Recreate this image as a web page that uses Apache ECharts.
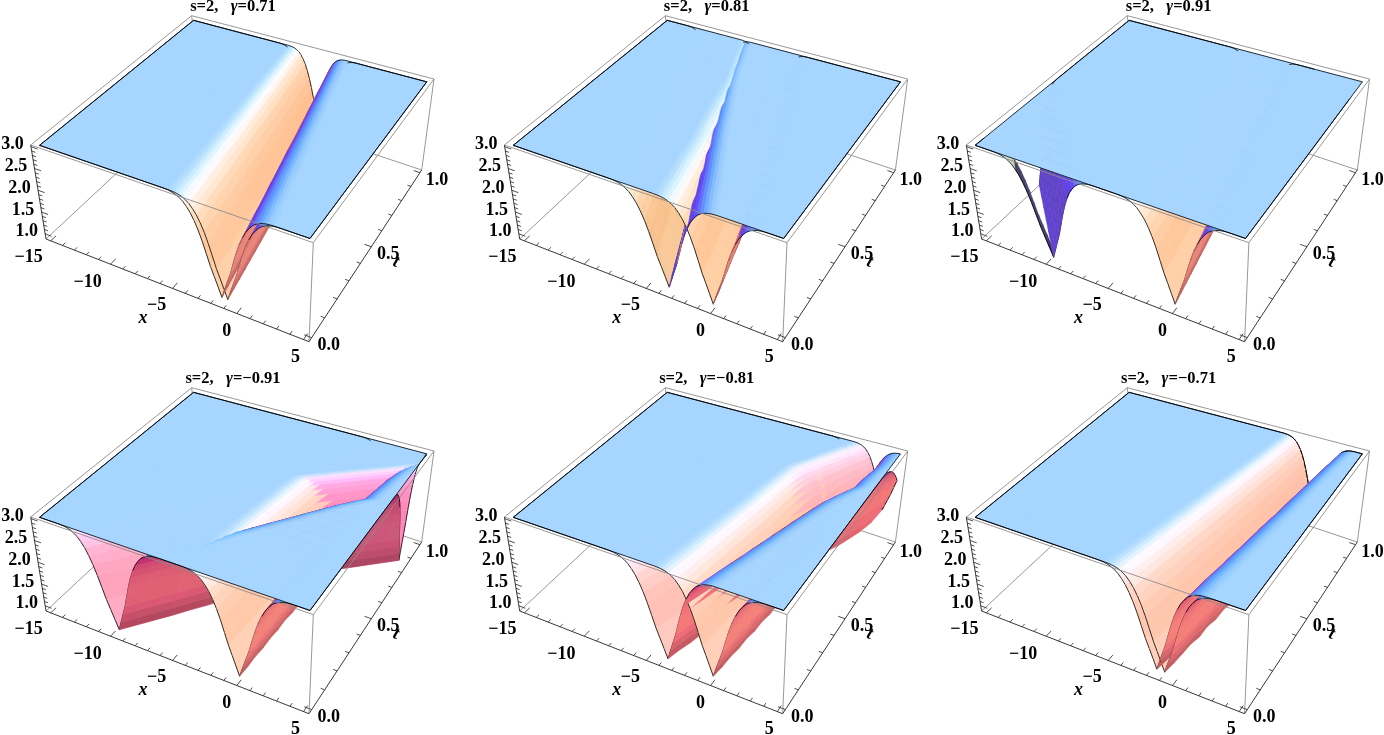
<!DOCTYPE html>
<html>
<head>
    <script src="https://cdn.jsdelivr.net/npm/echarts@6/dist/echarts.min.js"></script>
</head>
<body style="height: 100%; margin: 0; background: #fff">
<div id="container" style="height: 735px; width: 1384px;"></div>
<script>

// tick labels
var xTicks = [-15, -10, -5, 0, 5];
var zTicks = [1.0, 1.5, 2.0, 2.5, 3.0];
var tTicks = [0.0, 0.5, 1.0];

// t rows of every surface
var tRows = [0, 0.05, 0.1, 0.15, 0.2, 0.25, 0.3, 0.35, 0.4, 0.45, 0.5, 0.55, 0.6, 0.65, 0.7, 0.75, 0.8, 0.85, 0.9, 0.95, 1];

// dip cross section: distance from the dip centre -> height
var dipOffset = [0, 0.25, 0.5, 0.75, 1, 1.25, 1.5, 1.75, 2, 2.25, 2.5, 2.75, 3, 3.25, 3.5, 3.75, 4, 6, 10, 20, 40];
var dipHeight = [1, 1.2, 1.4, 1.6, 1.85, 2.1, 2.32, 2.5, 2.65, 2.76, 2.85, 2.91, 2.95, 2.975, 2.99, 2.997, 3, 3, 3, 3, 3];
// the dips look narrower towards t = 1
var dipWidth = [1, 0.99, 0.97, 0.96, 0.95, 0.93, 0.92, 0.9, 0.89, 0.87, 0.86, 0.85, 0.83, 0.82, 0.8, 0.79, 0.77, 0.76, 0.75, 0.73, 0.72];

// dip centres and dip floors per t row, one pair of sheets per panel
var flatFloor = [1, 1, 1, 1, 1, 1, 1, 1, 1, 1, 1, 1, 1, 1, 1, 1, 1, 1, 1, 1, 1];

var g71One = [-0.9, -1.03, -1.16, -1.29, -1.42, -1.55, -1.68, -1.81, -1.94, -2.07, -2.2, -2.33, -2.46, -2.59, -2.72, -2.85, -2.98, -3.11, -3.24, -3.37, -3.5];
var g71Two = [-1.35, -1.5, -1.65, -1.79, -1.94, -2.09, -2.24, -2.38, -2.53, -2.68, -2.83, -2.97, -3.12, -3.27, -3.42, -3.56, -3.71, -3.86, -4.01, -4.15, -4.3];

var g81One = [0, -0.2, -0.43, -0.65, -0.88, -1.1, -1.3, -1.55, -1.85, -2.1, -2.35, -2.6, -2.85, -3.1, -3.35, -3.65, -4.05, -4.4, -4.7, -5.05, -5.4];
var g81Two = [-3.4, -3.8, -4.18, -4.55, -4.93, -5.3, -5.7, -6.05, -6.45, -6.8, -7.15, -7.5, -7.85, -8.2, -8.55, -8.85, -9.15, -9.4, -9.7, -9.95, -10.2];

var g91One = [0, -0.15, -0.3, -0.45, -0.6, -0.75, -0.9, -1.05, -1.2, -1.35, -1.5, -1.65, -1.8, -1.95, -2.1, -2.25, -2.4, -2.55, -2.7, -2.85, -3.0];
var g91Two = [-9.6, -10.5, -11.4, -12.3, -13.2, -14.1, -15, -15.9, -16.8, -17.7, -18.6, -19.5, -20.4, -21.3, -22.2, -23.1, -24, -24.9, -25.8, -26.7, -27.6];

var m91One = [0, 0.05, 0.1, 0.15, 0.2, 0.25, 0.3, 0.38, 0.46, 0.55, 0.65, 0.75, 0.85, 1.0, 1.2, 1.4, 1.6, 1.85, 2.1, 2.4, 2.7];
var m91Two = [-9.5, -8.7, -7.9, -7.1, -6.3, -5.5, -4.7, -3.9, -3.1, -2.3, -1.5, -0.7, 0.2, 1.2, 2.4, 3.6, 4.8, 6.0, 7.2, 8.4, 9.6];
var m91FloorOne = [1, 1, 1.03, 1.02, 1.05, 1.04, 1.07, 1.06, 1.09, 1.08, 1.1, 1.12, 1.12, 1.15, 1.15, 1.18, 1.2, 1.22, 1.25, 1.3, 1.35];
var m91FloorTwo = [1, 1, 1, 1, 1.01, 1.01, 1.02, 1.02, 1.03, 1.03, 1.04, 1.05, 1.06, 1.07, 1.08, 1.09, 1.1, 1.11, 1.12, 1.14, 1.15];

var m81One = [0, 0.1, 0.2, 0.3, 0.4, 0.5, 0.6, 0.7, 0.8, 0.9, 1.0, 1.08, 1.15, 1.25, 1.35, 1.5, 1.65, 1.85, 2.05, 2.2, 2.3];
var m81Two = [-3.5, -3.2, -2.9, -2.6, -2.3, -2.0, -1.7, -1.4, -1.1, -0.8, -0.5, -0.2, 0.15, 0.6, 1.1, 1.6, 2.1, 2.6, 3.1, 3.6, 4.1];
var m81FloorOne = [1, 1, 1.03, 1.02, 1.06, 1.04, 1.08, 1.06, 1.1, 1.08, 1.12, 1.1, 1.15, 1.12, 1.18, 1.15, 1.2, 1.25, 1.3, 1.5, 1.8];
var m81FloorTwo = [1, 1.02, 1.02, 1.05, 1.05, 1.08, 1.08, 1.1, 1.1, 1.12, 1.12, 1.15, 1.15, 1.18, 1.18, 1.2, 1.2, 1.25, 1.3, 1.4, 1.6];

var m71One = [-0.8, -0.68, -0.56, -0.44, -0.32, -0.2, -0.08, 0.04, 0.16, 0.28, 0.4, 0.52, 0.64, 0.76, 0.88, 1.0, 1.12, 1.24, 1.36, 1.46, 1.55];
var m71Two = [-1.4, -1.25, -1.11, -0.97, -0.82, -0.68, -0.53, -0.38, -0.24, -0.1, 0.05, 0.2, 0.34, 0.48, 0.63, 0.78, 0.92, 1.06, 1.21, 1.4, 1.55];
var m71FloorOne = [1, 1, 1.02, 1.05, 1.02, 1.08, 1.05, 1.1, 1.08, 1.12, 1.1, 1.15, 1.12, 1.18, 1.15, 1.2, 1.2, 1.25, 1.3, 1.35, 1.4];

var panelNames = ['0.71', '0.81', '0.91', '\u22120.91', '\u22120.81', '\u22120.71'];
// centres, floors, and whether the sampled surface has no left wall behind the first row
var panelSheets = [
    [[g71One, flatFloor], [g71Two, flatFloor]],
    [[g81One, flatFloor], [g81Two, flatFloor]],
    [[g91One, flatFloor], [g91Two, flatFloor, true]],
    [[m91One, m91FloorOne], [m91Two, m91FloorTwo]],
    [[m81One, m81FloorOne], [m81Two, m81FloorTwo]],
    [[m71One, m71FloorOne], [m71Two, m71FloorOne]]
];

// page layout of the six panels, all panels share one projection
var panelLeft = [0, 473.7, 935.6, 0, 473.7, 935.6];
var panelTop = [0, 0, 0, 372, 372, 372];
var panelW = 448, panelH = 360;

// plot box in data units and its corners on the panel plane
var box = {x0: -15.4, x1: 5.4, t0: -0.02, t1: 1.02, z0: 0.88, z1: 3.04};
var topCorners = [[30.7, 145], [313.3, 242.7], [434, 79], [191.7, 15.7]];
var floorCorners = [[46, 239], [309, 341.7], [421.7, 170], [199.5, 96]];

function quadMap(c) {
    var dx1 = c[1][0] - c[2][0], dx2 = c[3][0] - c[2][0], sx = c[0][0] - c[1][0] + c[2][0] - c[3][0];
    var dy1 = c[1][1] - c[2][1], dy2 = c[3][1] - c[2][1], sy = c[0][1] - c[1][1] + c[2][1] - c[3][1];
    var den = dx1 * dy2 - dx2 * dy1;
    var g = (sx * dy2 - dx2 * sy) / den, h = (dx1 * sy - sx * dy1) / den;
    var a = c[1][0] - c[0][0] + g * c[1][0], b = c[3][0] - c[0][0] + h * c[3][0];
    var d = c[1][1] - c[0][1] + g * c[1][1], e = c[3][1] - c[0][1] + h * c[3][1];
    return function (u, v) {
        var w = g * u + h * v + 1;
        return [(a * u + b * v + c[0][0]) / w, (d * u + e * v + c[0][1]) / w];
    };
}
var topMap = quadMap(topCorners), floorMap = quadMap(floorCorners);

function project(x, t, z) {
    var u = (x - box.x0) / (box.x1 - box.x0), v = (t - box.t0) / (box.t1 - box.t0);
    var k = (z - box.z0) / (box.z1 - box.z0);
    var p = topMap(u, v), q = floorMap(u, v);
    return [q[0] + (p[0] - q[0]) * k, q[1] + (p[1] - q[1]) * k];
}

// default Mathematica style lights, given in camera axes
var camRight = [0.897, 0.443, 0], camUp = [-0.349, 0.532, 0.797], camView = [0.353, -0.715, 0.632];
var lightRed = [0.588, -0.196, 0.784], lightGreen = [0.514, 0.514, 0.686], lightBlue = [-0.196, 0.588, 0.784];
var ambient = [0.38, 0.15, 0.39];

function dot(a, b) { return a[0] * b[0] + a[1] * b[1] + a[2] * b[2]; }

function shade(poly) {
    var n = poly.length, a = poly[0], b = poly[Math.floor(n / 2)], c = poly[Math.floor(n / 4)], d = poly[Math.floor(3 * n / 4)];
    var zs = 0.4 / (box.z1 - box.z0);
    var p = [(b[0] - a[0]) / 20, b[1] - a[1], (b[2] - a[2]) * zs];
    var q = [(d[0] - c[0]) / 20, d[1] - c[1], (d[2] - c[2]) * zs];
    var nv = [p[1] * q[2] - p[2] * q[1], p[2] * q[0] - p[0] * q[2], p[0] * q[1] - p[1] * q[0]];
    var len = Math.sqrt(dot(nv, nv)) || 1;
    nv = [nv[0] / len, nv[1] / len, nv[2] / len];
    if (nv[2] < 0) nv = [-nv[0], -nv[1], -nv[2]];
    // normal that looks at the camera, grazing cells count as underside so they do not flicker
    var under = dot(nv, camView) < 0.1;
    if (under) nv = [-nv[0], -nv[1], -nv[2]];
    var cam = [dot(nv, camRight), dot(nv, camUp), dot(nv, camView)];
    var fill = Math.max(0, cam[0] + 0.3 * cam[2]);
    var r = ambient[0] + 0.8 * Math.max(0, dot(cam, lightRed));
    var g = ambient[1] + 0.8 * Math.max(0, dot(cam, lightGreen)) + 0.06 * fill + 0.12 * Math.max(0, -cam[0]);
    var bl = ambient[2] + 0.8 * Math.max(0, dot(cam, lightBlue)) + 0.14 * fill;
    if (under) {
        var low = 0;
        poly.forEach(function (v) { low += v[2] / n; });
        var dim = 0.78 + 0.22 * Math.min(1, (low - 1) / 0.5);
        var side = Math.max(0, cam[0]);
        r *= (0.7 + 0.3 * side) * dim;
        g = (g + 0.1 * side * side) * dim;
        bl = (bl - 0.05 * side) * dim;
    }
    return 'rgb(' + Math.round(Math.min(1, r) * 255) + ',' + Math.round(Math.min(1, g) * 255) + ',' + Math.round(Math.min(1, bl) * 255) + ')';
}

// cut a cell at the x range of the plot, the cut edges are the sheet boundary lines
function clipCell(poly, limit, keepAbove, edges) {
    var out = [], cut = [];
    for (var i = 0; i < poly.length; i++) {
        var a = poly[i], b = poly[(i + 1) % poly.length];
        var ina = keepAbove ? a[0] >= limit : a[0] <= limit;
        var inb = keepAbove ? b[0] >= limit : b[0] <= limit;
        if (ina) out.push(a);
        if (ina !== inb) {
            var k = (limit - a[0]) / (b[0] - a[0]);
            var m = [limit, a[1] + (b[1] - a[1]) * k, a[2] + (b[2] - a[2]) * k];
            out.push(m);
            cut.push(m);
        }
    }
    if (cut.length === 2) edges.push(cut);
    return out;
}

function sheetItems(centres, floors, openLeft) {
    var cols = [];
    for (var i = dipOffset.length - 1; i > 0; i--) cols.push([-dipOffset[i], dipHeight[i]]);
    var mid = cols.length;
    for (i = 0; i < dipOffset.length; i++) cols.push([dipOffset[i], dipHeight[i]]);
    var vert = function (r, c) {
        var drop = (3 - cols[c][1]) / 2 * (3 - floors[r]);
        return [centres[r] + cols[c][0] * dipWidth[r], tRows[r], 3 - drop];
    };
    var items = [];
    var line = function (a, b) {
        items.push({kind: 'line', pts: [a, b], key: (a[2] + b[2]) / 2 + 0.04});
    };
    for (var r = 0; r < tRows.length; r++) {
        for (var c = 0; c < cols.length - 1; c++) {
            var edges = [];
            if (r < tRows.length - 1 && !(openLeft && r > 0 && c < mid)) {
                var cell = [vert(r, c), vert(r, c + 1), vert(r + 1, c + 1), vert(r + 1, c)];
                cell = clipCell(cell, -15, true, edges);
                if (cell.length) cell = clipCell(cell, 5, false, edges);
                if (cell.length > 2) {
                    var key = 0;
                    cell.forEach(function (p) { key += p[2] / cell.length; });
                    // the camera sits on the +x side: near the floor the right wall goes over the left one
                    key += (c < mid ? -0.15 : 0.15) * (3 - key) / 2;
                    items.push({kind: 'face', pts: cell, key: key, color: shade(cell)});
                }
                edges.forEach(function (e) { line(e[0], e[1]); });
            }
            if (r === 0 || r === tRows.length - 1) {
                var seg = clipCell([vert(r, c), vert(r, c + 1)], -15, true, []);
                if (seg.length === 2) seg = clipCell(seg, 5, false, []);
                if (seg.length >= 2) line(seg[0], seg[1]);
            }
        }
    }
    return items;
}

function boxLine(a, b, color, width) {
    return {kind: 'line', pts: [a, b], color: color, width: width};
}

function boxItemsBack() {
    var g = '#8c8c8c';
    return [
        boxLine([box.x0, box.t1, box.z0], [box.x0, box.t0, box.z0], g, 0.9),
        boxLine([box.x0, box.t1, box.z0], [box.x1, box.t1, box.z0], g, 0.9),
        boxLine([box.x0, box.t1, box.z0], [box.x0, box.t1, box.z1], g, 0.9)
    ];
}

function boxItemsFront() {
    var g = '#8c8c8c', k = '#222', i, out = [
        boxLine([box.x0, box.t0, box.z1], [box.x1, box.t0, box.z1], g, 0.9),
        boxLine([box.x1, box.t0, box.z1], [box.x1, box.t1, box.z1], g, 0.9),
        boxLine([box.x1, box.t1, box.z1], [box.x0, box.t1, box.z1], g, 0.9),
        boxLine([box.x0, box.t1, box.z1], [box.x0, box.t0, box.z1], g, 0.9),
        boxLine([box.x1, box.t0, box.z1], [box.x1, box.t0, box.z0], g, 0.9),
        boxLine([box.x1, box.t1, box.z1], [box.x1, box.t1, box.z0], g, 0.9),
        boxLine([box.x0, box.t0, box.z1], [box.x0, box.t0, box.z0], k, 0.9),
        boxLine([box.x0, box.t0, box.z0], [box.x1, box.t0, box.z0], k, 0.9),
        boxLine([box.x1, box.t0, box.z0], [box.x1, box.t1, box.z0], k, 0.9)
    ];
    for (i = -15; i <= 5; i++) {
        out.push(boxLine([i, box.t0, box.z0], [i, box.t0 + (i % 5 === 0 ? 0.03 : 0.016), box.z0], k, 0.8));
    }
    for (i = 0; i <= 10; i++) {
        out.push(boxLine([box.x1, i / 10, box.z0], [box.x1 - (i % 5 === 0 ? 0.55 : 0.3), i / 10, box.z0], k, 0.8));
    }
    for (i = 10; i <= 30; i++) {
        out.push(boxLine([box.x0, box.t0, i / 10], [box.x0 + (i % 5 === 0 ? 0.55 : 0.3), box.t0, i / 10], k, 0.8));
    }
    return out;
}

var serifBold = 'bold 18px "Liberation Serif"';
var xNudge = [[-22, 17], [-23, 18], [-16, 17], [-10, 18], [-8, 18]];

function labelItems(name) {
    var out = [];
    var add = function (pos, text, font, rotation) {
        out.push({kind: 'text', at: pos, text: text, font: font || serifBold, rotation: rotation || 0});
    };
    xTicks.forEach(function (v, i) {
        var p = project(v, box.t0, box.z0);
        add([p[0] + xNudge[i][0], p[1] + xNudge[i][1]], String(v).replace('-', '\u2212'));
    });
    zTicks.forEach(function (v) {
        var p = project(box.x0, box.t0, v);
        add([p[0] - 18.5, p[1] - 2], v.toFixed(1));
    });
    tTicks.forEach(function (v) {
        var p = project(box.x1, v, box.z0);
        add([p[0] + 17, p[1] + 7.5], v.toFixed(1));
    });
    add([143, 318], 'x', 'italic bold 18px "Liberation Serif"');
    add([396, 262], 't', 'italic bold 18px "Liberation Serif"', -0.35);
    out.push({kind: 'title', at: [233, 7], name: name});
    return out;
}

function panelItems(p) {
    var faces = [];
    panelSheets[p].forEach(function (s) { faces = faces.concat(sheetItems(s[0], s[1], s[2])); });
    faces.sort(function (a, b) { return a.key - b.key; });
    return boxItemsBack().concat(faces, boxItemsFront(), labelItems(panelNames[p]));
}

function flat(pts) {
    return pts.map(function (v) { return project(v[0], v[1], v[2]); });
}

function drawItem(items) {
    return function (params, api) {
        var it = items[params.dataIndex];
        if (it.kind === 'face') {
            return {type: 'polygon', shape: {points: flat(it.pts).map(function (q) { return api.coord(q); })},
                style: {fill: it.color, stroke: it.color, lineWidth: 0.6}};
        }
        if (it.kind === 'line') {
            var a = flat(it.pts), s = api.coord(a[0]), e = api.coord(a[1]);
            return {type: 'line', shape: {x1: s[0], y1: s[1], x2: e[0], y2: e[1]},
                style: {stroke: it.color || '#000', lineWidth: it.width || 0.8}};
        }
        var at = api.coord(it.at);
        if (it.kind === 'title') {
            return {type: 'text', x: at[0], y: at[1], style: {
                text: '{b|s=2,   }{g|\u03b3}{b|=' + it.name + '}', align: 'center', verticalAlign: 'middle',
                rich: {b: {font: 'bold 16.5px "Liberation Serif"', fill: '#000'},
                       g: {font: 'italic bold 16.5px "Liberation Serif"', fill: '#000'}}
            }};
        }
        return {type: 'text', x: at[0], y: at[1], rotation: it.rotation, style: {
            text: it.text, font: it.font, fill: '#000', align: 'center', verticalAlign: 'middle'
        }};
    };
}

var option = {animation: false, grid: [], xAxis: [], yAxis: [], series: []};
panelNames.forEach(function (name, p) {
    option.grid.push({left: panelLeft[p], top: panelTop[p], width: panelW, height: panelH, show: false});
    option.xAxis.push({type: 'value', gridIndex: p, min: 0, max: panelW, show: false});
    option.yAxis.push({type: 'value', gridIndex: p, min: 0, max: panelH, inverse: true, show: false});
    var items = panelItems(p);
    option.series.push({
        type: 'custom', name: name, xAxisIndex: p, yAxisIndex: p, coordinateSystem: 'cartesian2d',
        clip: false, silent: true, progressive: 0,
        renderItem: drawItem(items),
        data: items.map(function (it, i) { return [i, i]; })
    });
});

var myChart = echarts.init(document.getElementById('container'), null, {renderer: 'canvas'});
myChart.setOption(option);

</script>
</body>
</html>
